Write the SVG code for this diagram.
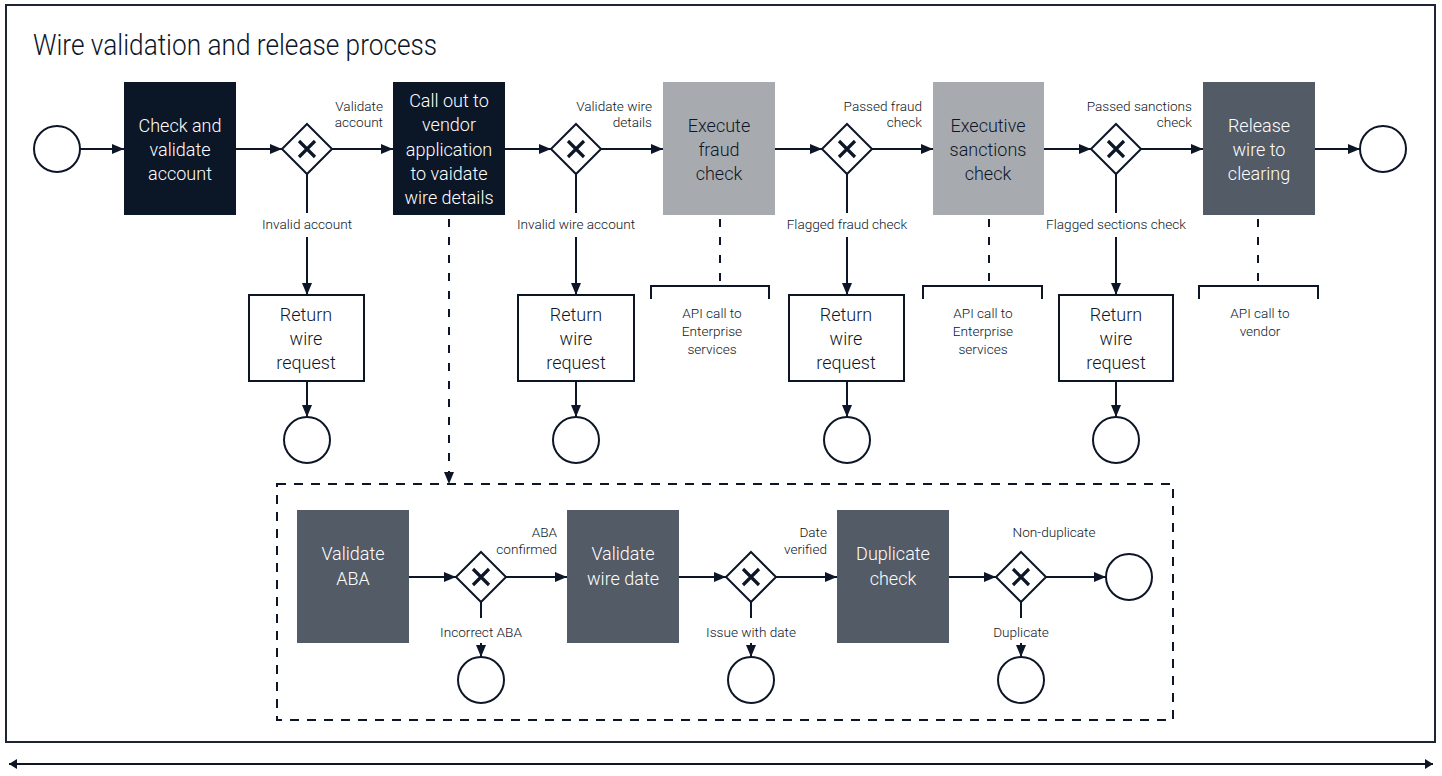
<svg xmlns="http://www.w3.org/2000/svg" width="1442" height="776" viewBox="0 0 1442 776">
  <defs>
    <marker id="arrow" markerUnits="userSpaceOnUse" markerWidth="12" markerHeight="12" viewBox="0 0 12 12" refX="12" refY="6" orient="auto">
      <path d="M0,1 L12,6 L0,11 Z" fill="#0d1627"/>
    </marker>
    <marker id="tip" markerUnits="userSpaceOnUse" markerWidth="8" markerHeight="10" viewBox="0 0 8 10" refX="8" refY="5" orient="auto-start-reverse">
      <path d="M0,0 L8,5 L0,10 Z" fill="#0d1627"/>
    </marker>
    <g id="gw">
      <path d="M0,-25 L25,0 L0,25 L-25,0 Z" fill="#fff" stroke="#0d1627" stroke-width="2"/>
      <path d="M-8,-8 L8,8 M8,-8 L-8,8" stroke="#0d1627" stroke-width="3.2"/>
    </g>
  </defs>
  <style>
    text { font-family: Roboto, "Liberation Sans", sans-serif; font-weight: 300; fill: #0d1627; }
    .title { font-size: 30px; }
    .box { font-size: 18px; text-anchor: middle; }
    .light { fill: #ffffff; }
    .lbl { font-size: 13.6px; }
    .mid { text-anchor: middle; }
    .end { text-anchor: end; }
    .navy { fill: #0b1627; }
    .grey { fill: #a7abb0; }
    .slate { fill: #525b66; }
    .plain { fill: #ffffff; stroke: #0d1627; stroke-width: 2; }
    .evt { fill: #ffffff; stroke: #0d1627; stroke-width: 2; }
    .flow { fill: none; stroke: #0d1627; stroke-width: 2; }
    .dash { fill: none; stroke: #0d1627; stroke-width: 2; stroke-dasharray: 8 10; }
    .frame { fill: none; stroke: #1c2533; stroke-width: 2; }
  </style>

  <rect class="frame" x="6" y="5" width="1429" height="737"/>
  <text class="title" x="33" y="55" textLength="404" lengthAdjust="spacingAndGlyphs">Wire validation and release process</text>

  <!-- connectors -->
  <g id="connectors">
    <line class="flow" x1="80" y1="149" x2="124" y2="149" marker-end="url(#arrow)"/>
    <line class="flow" x1="236" y1="149" x2="282" y2="149" marker-end="url(#arrow)"/>
    <line class="flow" x1="332" y1="149" x2="393" y2="149" marker-end="url(#arrow)"/>
    <line class="flow" x1="505" y1="149" x2="551" y2="149" marker-end="url(#arrow)"/>
    <line class="flow" x1="601" y1="149" x2="663" y2="149" marker-end="url(#arrow)"/>
    <line class="flow" x1="775" y1="149" x2="822" y2="149" marker-end="url(#arrow)"/>
    <line class="flow" x1="872" y1="149" x2="933" y2="149" marker-end="url(#arrow)"/>
    <line class="flow" x1="1044" y1="149" x2="1091" y2="149" marker-end="url(#arrow)"/>
    <line class="flow" x1="1141" y1="149" x2="1203" y2="149" marker-end="url(#arrow)"/>
    <line class="flow" x1="1315" y1="149" x2="1360" y2="149" marker-end="url(#arrow)"/>

    <!-- rejection branches -->
    <line class="flow" x1="307" y1="174" x2="307" y2="213"/>
    <line class="flow" x1="307" y1="237" x2="307" y2="295" marker-end="url(#arrow)"/>
    <line class="flow" x1="307" y1="381" x2="307" y2="417" marker-end="url(#arrow)"/>
    <line class="flow" x1="576" y1="174" x2="576" y2="213"/>
    <line class="flow" x1="576" y1="237" x2="576" y2="295" marker-end="url(#arrow)"/>
    <line class="flow" x1="576" y1="381" x2="576" y2="417" marker-end="url(#arrow)"/>
    <line class="flow" x1="847" y1="174" x2="847" y2="213"/>
    <line class="flow" x1="847" y1="237" x2="847" y2="295" marker-end="url(#arrow)"/>
    <line class="flow" x1="847" y1="381" x2="847" y2="417" marker-end="url(#arrow)"/>
    <line class="flow" x1="1116" y1="174" x2="1116" y2="213"/>
    <line class="flow" x1="1116" y1="237" x2="1116" y2="295" marker-end="url(#arrow)"/>
    <line class="flow" x1="1116" y1="381" x2="1116" y2="417" marker-end="url(#arrow)"/>

    <!-- associations -->
    <line class="dash" x1="449" y1="219" x2="449" y2="484" marker-end="url(#arrow)"/>
    <line class="dash" x1="720" y1="219" x2="720" y2="286"/>
    <line class="dash" x1="989" y1="219" x2="989" y2="286"/>
    <line class="dash" x1="1258" y1="219" x2="1258" y2="286"/>
    <path class="flow" d="M651,299 V286 H769 V299"/>
    <path class="flow" d="M923,299 V286 H1042 V299"/>
    <path class="flow" d="M1199,299 V286 H1318 V299"/>

    <!-- sub-process flows -->
    <line class="flow" x1="409" y1="577" x2="456" y2="577" marker-end="url(#arrow)"/>
    <line class="flow" x1="506" y1="577" x2="567" y2="577" marker-end="url(#arrow)"/>
    <line class="flow" x1="679" y1="577" x2="726" y2="577" marker-end="url(#arrow)"/>
    <line class="flow" x1="776" y1="577" x2="837" y2="577" marker-end="url(#arrow)"/>
    <line class="flow" x1="949" y1="577" x2="996" y2="577" marker-end="url(#arrow)"/>
    <line class="flow" x1="1046" y1="577" x2="1106" y2="577" marker-end="url(#arrow)"/>
    <line class="flow" x1="481" y1="602" x2="481" y2="618"/>
    <line class="flow" x1="481" y1="643" x2="481" y2="657" marker-end="url(#arrow)"/>
    <line class="flow" x1="751" y1="602" x2="751" y2="618"/>
    <line class="flow" x1="751" y1="643" x2="751" y2="657" marker-end="url(#arrow)"/>
    <line class="flow" x1="1021" y1="602" x2="1021" y2="618"/>
    <line class="flow" x1="1021" y1="643" x2="1021" y2="657" marker-end="url(#arrow)"/>

    <!-- timeline -->
    <line x1="9" y1="764" x2="1433" y2="764" stroke="#0d1627" stroke-width="2" marker-start="url(#tip)" marker-end="url(#tip)"/>
  </g>

  <!-- flow labels -->
  <g id="labels">
    <text class="lbl end" x="383" y="110.5">Validate</text>
    <text class="lbl end" x="383" y="127">account</text>
    <text class="lbl mid" x="307" y="228.5">Invalid account</text>
    <text class="lbl end" x="652" y="110.5">Validate wire</text>
    <text class="lbl end" x="652" y="127">details</text>
    <text class="lbl mid" x="576" y="228.5">Invalid wire account</text>
    <text class="lbl end" x="922" y="110.5">Passed fraud</text>
    <text class="lbl end" x="922" y="127">check</text>
    <text class="lbl mid" x="847" y="228.5">Flagged fraud check</text>
    <text class="lbl end" x="1192" y="110.5">Passed sanctions</text>
    <text class="lbl end" x="1192" y="127">check</text>
    <text class="lbl mid" x="1116" y="228.5">Flagged sections check</text>
    <text class="lbl mid" x="712" y="317.5">API call to</text>
    <text class="lbl mid" x="712" y="335.5">Enterprise</text>
    <text class="lbl mid" x="712" y="353.5">services</text>
    <text class="lbl mid" x="983" y="317.5">API call to</text>
    <text class="lbl mid" x="983" y="335.5">Enterprise</text>
    <text class="lbl mid" x="983" y="353.5">services</text>
    <text class="lbl mid" x="1260" y="317.5">API call to</text>
    <text class="lbl mid" x="1260" y="335.5">vendor</text>
    <text class="lbl end" x="557" y="536.5">ABA</text>
    <text class="lbl end" x="557" y="553.5">confirmed</text>
    <text class="lbl mid" x="481" y="636.5">Incorrect ABA</text>
    <text class="lbl end" x="827" y="536.5">Date</text>
    <text class="lbl end" x="827" y="553.5">verified</text>
    <text class="lbl mid" x="751" y="636.5">Issue with date</text>
    <text class="lbl mid" x="1054" y="536.5">Non-duplicate</text>
    <text class="lbl mid" x="1021" y="636.5">Duplicate</text>
  </g>

  <!-- main process -->
  <g id="start"><circle class="evt" cx="57" cy="149" r="23"/></g>
  <g id="check-account">
    <rect class="navy" x="124" y="82" width="112" height="133"/>
    <text class="box light" x="180" y="132">Check and</text>
    <text class="box light" x="180" y="156">validate</text>
    <text class="box light" x="180" y="180">account</text>
  </g>
  <g id="gw-account"><use href="#gw" x="307" y="149"/></g>
  <g id="vendor-call">
    <rect class="navy" x="393" y="82" width="112" height="133"/>
    <text class="box light" x="449" y="107">Call out to</text>
    <text class="box light" x="449" y="131">vendor</text>
    <text class="box light" x="449" y="156">application</text>
    <text class="box light" x="449" y="180">to vaidate</text>
    <text class="box light" x="449" y="204">wire details</text>
  </g>
  <g id="gw-details"><use href="#gw" x="576" y="149"/></g>
  <g id="fraud-check">
    <rect class="grey" x="663" y="82" width="112" height="133"/>
    <text class="box" x="719" y="132">Execute</text>
    <text class="box" x="719" y="156">fraud</text>
    <text class="box" x="719" y="180">check</text>
  </g>
  <g id="gw-fraud"><use href="#gw" x="847" y="149"/></g>
  <g id="sanctions-check">
    <rect class="grey" x="933" y="82" width="111" height="133"/>
    <text class="box" x="988" y="132">Executive</text>
    <text class="box" x="988" y="156">sanctions</text>
    <text class="box" x="988" y="180">check</text>
  </g>
  <g id="gw-sanctions"><use href="#gw" x="1116" y="149"/></g>
  <g id="release">
    <rect class="slate" x="1203" y="82" width="112" height="133"/>
    <text class="box light" x="1259" y="132">Release</text>
    <text class="box light" x="1259" y="156">wire to</text>
    <text class="box light" x="1259" y="180">clearing</text>
  </g>
  <g id="end"><circle class="evt" cx="1383" cy="149" r="23"/></g>

  <!-- rejections -->
  <g id="return-1">
    <rect class="plain" x="249" y="295" width="115" height="86"/>
    <text class="box" x="306" y="321">Return</text>
    <text class="box" x="306" y="345">wire</text>
    <text class="box" x="306" y="369">request</text>
  </g>
  <g id="end-1"><circle class="evt" cx="307" cy="440" r="23"/></g>
  <g id="return-2">
    <rect class="plain" x="518" y="295" width="116" height="86"/>
    <text class="box" x="576" y="321">Return</text>
    <text class="box" x="576" y="345">wire</text>
    <text class="box" x="576" y="369">request</text>
  </g>
  <g id="end-2"><circle class="evt" cx="576" cy="440" r="23"/></g>
  <g id="return-3">
    <rect class="plain" x="789" y="295" width="115" height="86"/>
    <text class="box" x="846" y="321">Return</text>
    <text class="box" x="846" y="345">wire</text>
    <text class="box" x="846" y="369">request</text>
  </g>
  <g id="end-3"><circle class="evt" cx="847" cy="440" r="23"/></g>
  <g id="return-4">
    <rect class="plain" x="1059" y="295" width="114" height="86"/>
    <text class="box" x="1116" y="321">Return</text>
    <text class="box" x="1116" y="345">wire</text>
    <text class="box" x="1116" y="369">request</text>
  </g>
  <g id="end-4"><circle class="evt" cx="1116" cy="440" r="23"/></g>

  <!-- vendor sub-process -->
  <g id="subprocess">
    <rect x="277" y="484" width="896" height="236" fill="none" stroke="#0d1627" stroke-width="2" stroke-dasharray="9 8"/>
  </g>
  <g id="validate-aba">
    <rect class="slate" x="297" y="510" width="112" height="133"/>
    <text class="box light" x="353" y="559.5">Validate</text>
    <text class="box light" x="353" y="584.5">ABA</text>
  </g>
  <g id="gw-aba"><use href="#gw" x="481" y="577"/></g>
  <g id="end-aba"><circle class="evt" cx="481" cy="680" r="23"/></g>
  <g id="validate-date">
    <rect class="slate" x="567" y="510" width="112" height="133"/>
    <text class="box light" x="623" y="559.5">Validate</text>
    <text class="box light" x="623" y="584.5">wire date</text>
  </g>
  <g id="gw-date"><use href="#gw" x="751" y="577"/></g>
  <g id="end-date"><circle class="evt" cx="751" cy="680" r="23"/></g>
  <g id="duplicate-check">
    <rect class="slate" x="837" y="510" width="112" height="133"/>
    <text class="box light" x="893" y="559.5">Duplicate</text>
    <text class="box light" x="893" y="584.5">check</text>
  </g>
  <g id="gw-duplicate"><use href="#gw" x="1021" y="577"/></g>
  <g id="end-duplicate"><circle class="evt" cx="1021" cy="680" r="23"/></g>
  <g id="end-ok"><circle class="evt" cx="1129" cy="577" r="23"/></g>
</svg>
